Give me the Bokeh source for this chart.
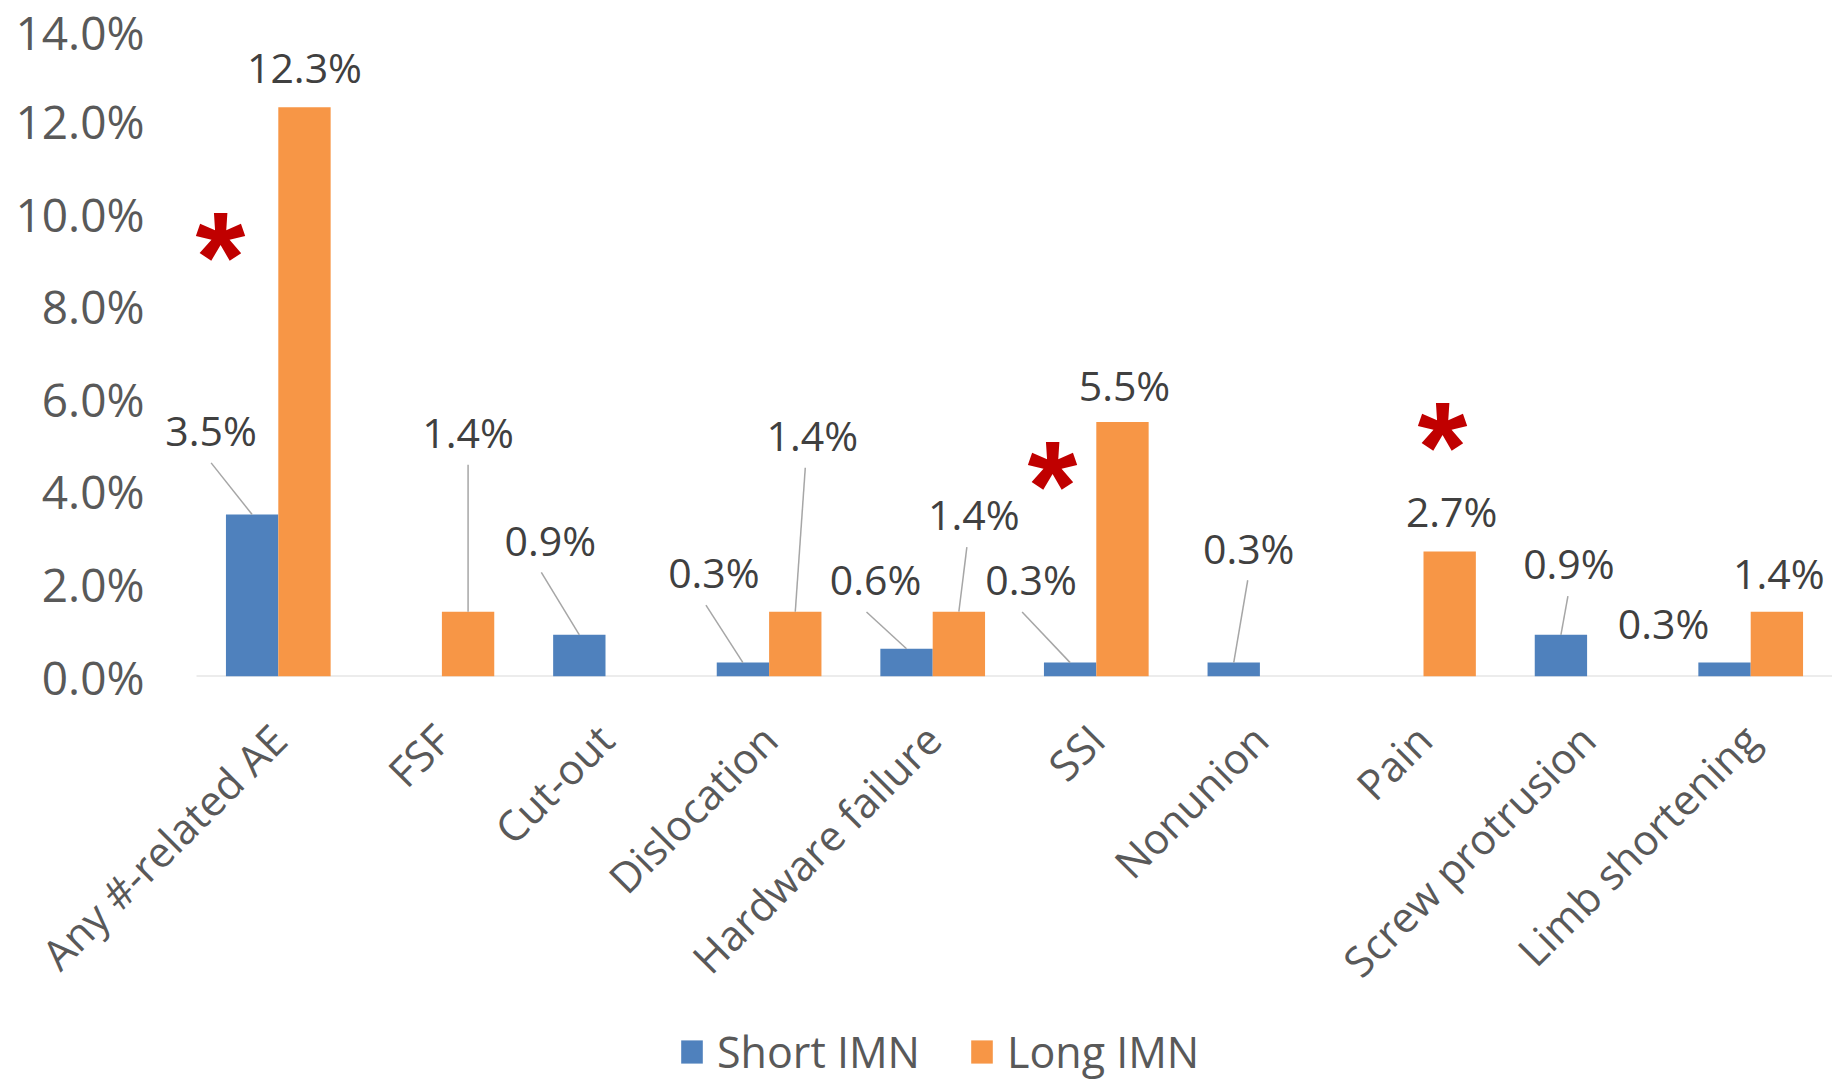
import math
from bokeh.plotting import figure
from bokeh.layouts import column
from bokeh.models import Range1d, FixedTicker, Legend, LegendItem
from bokeh.core.properties import value
from bokeh.embed import file_html
from bokeh.resources import INLINE

# ---------------- data ----------------
categories = ["Any #-related AE", "FSF", "Cut-out", "Dislocation", "Hardware failure",
              "SSI", "Nonunion", "Pain", "Screw protrusion", "Limb shortening"]
short_imn = [3.5, 0.0, 0.9, 0.3, 0.6, 0.3, 0.3, 0.0, 0.9, 0.3]
long_imn = [12.3, 1.4, 0.0, 1.4, 1.4, 5.5, 0.0, 2.7, 0.0, 1.4]
y_ticks = [0, 2, 4, 6, 8, 10, 12, 14]
series_names = ["Short IMN", "Long IMN"]

# ---------------- layout / style ----------------
W, H_MAIN, H_LEG = 1832, 1011, 70
AXIS_START = 196          # page x where the category axis begins
LEFT, RIGHT, TOP = 150, 0, 28
BOTTOM_PAGE = 681
BOTTOM = H_MAIN - BOTTOM_PAGE
XMAX, YMAX = len(categories), 14
PX_X = (W - AXIS_START) / XMAX
X0 = -(AXIS_START - LEFT) / PX_X
PX_Y = (BOTTOM_PAGE - TOP) / YMAX
BAR_W = 0.32
BLUE, ORANGE = "#4F81BD", "#F79646"
FONT = value("Open Sans")

# label offsets (screen px) relative to bar top; None = no label; (dx, dy, leader?, leader dx)
short_lab = [(-41, -85, True, 0), None, (-29, -96, True, -9), (-29, -91, True, -8),
             (-31, -70, True, -9), (-39, -84, True, -9), (15, -116, True, -1), None,
             (8, -72, True, -1), (-61, -40, False, 0)]
long_lab = [(0, -40, False, 0), (0, -181, True, 0), None, (17, -178, True, -7),
            (15, -98, True, -7), (2, -37, False, 0), None, (2, -41, False, 0), None,
            (2, -39, False, 0)]
# significance asterisks: (category index, dx px, visual centre y value)
star_pos = [(0, -58, 9.4), (5, -44, 4.45), (7, 19, 5.3)]
STAR_SIZE = 128
STAR_SHIFT = 15  # px the glyph's visual centre sits above the middle baseline

p = figure(width=W, height=H_MAIN, x_range=Range1d(X0, XMAX), y_range=Range1d(0, YMAX),
           output_backend="svg", toolbar_location=None,
           min_border_left=LEFT, min_border_right=RIGHT, min_border_top=TOP,
           min_border_bottom=BOTTOM)
p.xgrid.visible = False
p.ygrid.visible = False
p.outline_line_color = None

xs_short = [i + 0.5 - BAR_W / 2 for i in range(XMAX)]
xs_long = [i + 0.5 + BAR_W / 2 for i in range(XMAX)]

# category axis baseline (from axis start to end)
p.segment(x0=[0], y0=[0], x1=[XMAX], y1=[0], line_color="#D9D9D9", line_width=2)

p.vbar(x=xs_short, top=short_imn, width=BAR_W, bottom=0, fill_color=BLUE, line_color=None)
p.vbar(x=xs_long, top=long_imn, width=BAR_W, bottom=0, fill_color=ORANGE, line_color=None)

# data labels + leader lines
lx, ly, lt = [], [], []
sx0, sy0, sx1, sy1 = [], [], [], []
for xs, vals, labs in ((xs_short, short_imn, short_lab), (xs_long, long_imn, long_lab)):
    for xb, v, lab in zip(xs, vals, labs):
        if lab is None or v == 0:
            continue
        dx, dy, leader, ldx = lab
        cx = xb + dx / PX_X
        cy = v - dy / PX_Y
        lx.append(cx); ly.append(cy); lt.append(f"{v:.1f}%")
        if leader:
            sx0.append(cx + ldx / PX_X); sy0.append(cy - 33 / PX_Y)
            sx1.append(xb); sy1.append(v)

p.segment(x0=sx0, y0=sy0, x1=sx1, y1=sy1, line_color="#A6A6A6", line_width=1.5)
p.text(x=lx, y=ly, text=lt, text_font=FONT, text_font_size="41px", text_color="#404040",
       text_align="center", text_baseline="middle")

# significance asterisks
ax = [c + 0.5 + dx / PX_X for c, dx, _ in star_pos]
ay = [yv - STAR_SHIFT / PX_Y for _, _, yv in star_pos]
p.text(x=ax, y=ay, text=["*"] * len(star_pos), text_font=value("Liberation Sans"),
       text_font_style="bold", text_font_size=f"{STAR_SIZE}px", text_color="#C00000",
       text_align="center", text_baseline="middle")

# y axis
p.yaxis.ticker = FixedTicker(ticks=y_ticks)
p.yaxis.major_label_overrides = {t: f"{t:.1f}%" for t in y_ticks}
p.yaxis.axis_line_color = None
p.yaxis.major_tick_line_color = None
p.yaxis.minor_tick_line_color = None
p.yaxis.major_tick_out = 0
p.yaxis.major_label_standoff = 6
p.yaxis.major_label_text_font = "Open Sans"
p.yaxis.major_label_text_font_size = "46px"
p.yaxis.major_label_text_color = "#595959"

# x axis
xt = [i + 0.5 for i in range(XMAX)]
p.xaxis.ticker = FixedTicker(ticks=xt)
p.xaxis.major_label_overrides = {t: c for t, c in zip(xt, categories)}
p.xaxis.major_label_orientation = math.pi / 4
p.xaxis.axis_line_color = None
p.xaxis.major_tick_line_color = None
p.xaxis.minor_tick_line_color = None
p.xaxis.major_tick_out = 0
p.xaxis.major_label_standoff = 55
p.xaxis.major_label_text_font = "Open Sans"
p.xaxis.major_label_text_font_size = "42px"
p.xaxis.major_label_text_color = "#595959"

# legend strip below the chart
pl = figure(width=W, height=H_LEG, x_range=Range1d(0, 1), y_range=Range1d(0, 1),
            output_backend="svg", toolbar_location=None, min_border=0,
            x_axis_location=None, y_axis_location=None)
pl.xgrid.visible = False
pl.ygrid.visible = False
pl.outline_line_color = None
lr1 = pl.vbar(x=[0.5], top=[0], bottom=0, width=0.1, fill_color=BLUE, line_color=None)
lr2 = pl.vbar(x=[0.5], top=[0], bottom=0, width=0.1, fill_color=ORANGE, line_color=None)
legend = Legend(items=[LegendItem(label=series_names[0], renderers=[lr1]),
                       LegendItem(label=series_names[1], renderers=[lr2])],
                orientation="horizontal", location=(528, 0))
legend.border_line_color = None
legend.background_fill_alpha = 0
legend.padding = 0
legend.margin = 0
legend.spacing = 48
legend.label_standoff = 12
legend.glyph_width = 27
legend.glyph_height = 29
legend.label_text_font = "Open Sans"
legend.label_text_font_size = "43px"
legend.label_text_color = "#595959"
pl.add_layout(legend, "center")

layout = column(p, pl, spacing=0)
open("out.html", "w").write(file_html(layout, INLINE))
